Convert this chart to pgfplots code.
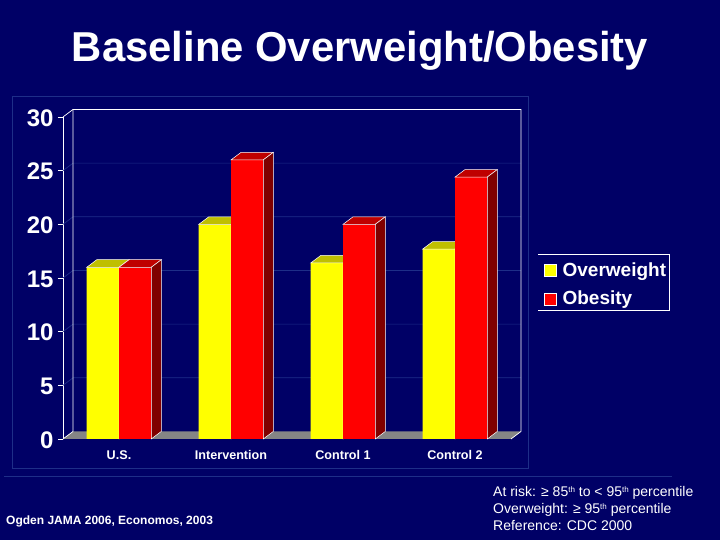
\documentclass[border=0pt]{standalone}
\usepackage{fontspec}
\setmainfont{Liberation Sans}
\usepackage{pgfplots}
\pgfplotsset{compat=1.18}
\definecolor{bg}{HTML}{000066}
\definecolor{gridc}{HTML}{1E2E88}
\definecolor{yfront}{RGB}{255,255,0}
\definecolor{rfront}{RGB}{255,0,0}
\definecolor{ytop}{HTML}{BFBF00}
\definecolor{rtop}{HTML}{BF0000}
\definecolor{rside}{HTML}{7F0000}
\definecolor{floorc}{HTML}{858585}
\newcommand{\fsz}[1]{\fontsize{#1}{#1}\selectfont}
\newcommand{\sth}{\raisebox{4.5pt}{\fontsize{8}{8}\selectfont th}}
% depth of the 3d look, in axis units
\def\dx{0.0893}
\def\dy{0.7}
\def\bw{0.288}
% left edge, value, top colour, side colour
\newcommand{\barfaces}[4]{%
  \pgfmathsetmacro\xb{#1+\bw}%
  \pgfmathsetmacro\xc{#1+\dx}%
  \pgfmathsetmacro\xd{#1+\bw+\dx}%
  \pgfmathsetmacro\yt{#2+\dy}%
  \addplot[forget plot, draw=white, line width=0.5pt, fill=#3] coordinates {(#1,#2)(\xc,\yt)(\xd,\yt)(\xb,#2)} --cycle;
  \addplot[forget plot, draw=white, line width=0.5pt, fill=#4] coordinates {(\xb,0)(\xb,#2)(\xd,\yt)(\xd,\dy)} --cycle;
}
\newcommand{\gridat}[1]{%
  \pgfmathsetmacro\yt{#1+\dy}%
  \addplot[forget plot, draw=gridc, line width=0.7pt] coordinates {(-0.5,#1)(-0.4107,\yt)(3.5893,\yt)};
}
\begin{document}
\begin{tikzpicture}[x=1pt,y=1pt]
\path[use as bounding box, fill=bg] (0,0) rectangle (720,540);
% frames behind the chart
\draw[gridc, line width=0.7pt] (12.5,72) rectangle (528,443.5);
\draw[gridc, line width=0.7pt] (4,63.5) -- (672,63.5);
\begin{axis}[
    at={(63pt,101pt)}, anchor=south west,
    scale only axis, width=448pt, height=322pt,
    xmin=-0.5, xmax=3.5, ymin=0, ymax=30,
    clip=false,
    axis x line=bottom, axis y line=left,
    axis line style={white, -, line width=0.7pt},
    x axis line style={draw=none},
    xtick={0,1,2,3},
    xticklabels={U.S.,Intervention,Control 1,Control 2},
    minor xtick={-0.5,0.5,1.5,2.5,3.5},
    ytick={0,5,10,15,20,25,30},
    tick style={white, line width=0.7pt},
    major tick length=5pt,
    minor tick length=5pt,
    x tick style={draw=none},
    minor x tick style={white, line width=0.7pt},
    tick align=outside,
    /pgf/number format/assume math mode=true,
    yticklabel style={text=white, font=\fsz{24}\bfseries, xshift=-1pt, yshift=-1pt},
    xticklabel style={text=white, font=\fsz{12.6}\bfseries, yshift=-3pt},
    legend style={at={(1.0625,0.5675)}, anchor=north west, draw=none, fill=none,
        text=white, font=\fsz{19}\bfseries, row sep=9.5pt, inner xsep=5pt, inner ysep=4pt},
    legend cell align=left,
]
\gridat{5} \gridat{10} \gridat{15} \gridat{20} \gridat{25}
% floor
\addplot[forget plot, draw=none, fill=floorc] coordinates {(-0.5,0)(-0.4107,0.7)(3.5893,0.7)(3.5,0)} --cycle;
% back walls
\addplot[forget plot, draw=white, line width=0.7pt] coordinates {(-0.5,30)(-0.4107,30.7)(3.5893,30.7)(3.5893,0.7)(3.5,0)};
\addplot[forget plot, draw=white, line width=0.7pt] coordinates {(-0.4107,30.7)(-0.4107,0.7)(-0.5,0)};
% overweight
\addplot[forget plot, ybar, bar width=32.3pt, bar shift=-16.15pt, fill=yfront, draw=none] coordinates {(0,16)(1,20)(2,16.4)(3,17.7)};
\barfaces{-0.288}{16}{ytop}{rside}
\barfaces{0.712}{20}{ytop}{rside}
\barfaces{1.712}{16.4}{ytop}{rside}
\barfaces{2.712}{17.7}{ytop}{rside}
% obesity
\addplot[forget plot, ybar, bar width=32.3pt, bar shift=16.15pt, fill=rfront, draw=none] coordinates {(0,16)(1,26)(2,20)(3,24.4)};
\barfaces{0}{16}{rtop}{rside}
\barfaces{1}{26}{rtop}{rside}
\barfaces{2}{20}{rtop}{rside}
\barfaces{3}{24.4}{rtop}{rside}
\addlegendimage{legend image code/.code={\draw[white, line width=0.4pt, fill=yfront] (0pt,-6pt) rectangle (12pt,6pt);}}
\addlegendentry{\hspace{4pt}Overweight}
\addlegendimage{legend image code/.code={\draw[white, line width=0.4pt, fill=rfront] (0pt,-6pt) rectangle (12pt,6pt);}}
\addlegendentry{\hspace{4pt}Obesity}
\end{axis}
% legend frame has no left side
\draw[white, line width=0.8pt] (538,285.7) -- (669.5,285.7) -- (669.5,229.3) -- (538,229.3);
\node[text=white, font=\fsz{41.8}\bfseries, anchor=base] at (360,478) {Baseline Overweight/Obesity};
\node[text=white, font=\fsz{12}\bfseries, anchor=base west, inner sep=0pt] at (6,15.5) {Ogden JAMA 2006, Economos, 2003};
\node[text=white, font=\fsz{14}, anchor=base west, inner sep=0pt] at (493,43) {At risk: ≥ 85\sth{} to < 95\sth{} percentile};
\node[text=white, font=\fsz{14}, anchor=base west, inner sep=0pt] at (493,26) {Overweight: ≥ 95\sth{} percentile};
\node[text=white, font=\fsz{14}, anchor=base west, inner sep=0pt] at (493,9.5) {Reference: CDC 2000};
\end{tikzpicture}
\end{document}
